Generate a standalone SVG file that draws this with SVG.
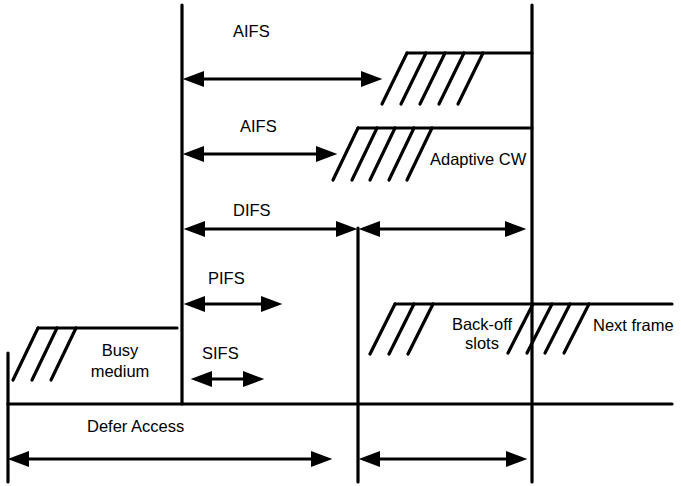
<svg xmlns="http://www.w3.org/2000/svg" width="681" height="486" viewBox="0 0 681 486">
<style>
  .ln { stroke:#000; stroke-width:3.2; fill:none; stroke-linecap:round; }
  .ar { stroke:#000; stroke-width:3.2; fill:none; marker-start:url(#ah); marker-end:url(#ah); }
  .t { font-family:"Liberation Sans", Arial, sans-serif; font-size:16.5px; fill:#000; }
  .c { text-anchor:middle; }
</style>
<defs>
  <marker id="ah" markerUnits="userSpaceOnUse" markerWidth="22" markerHeight="16" viewBox="0 0 20 15" refX="15" refY="7.5" orient="auto-start-reverse">
    <path d="M0,0 L20,7.5 L0,15 z" fill="#000"/>
  </marker>
</defs>
<rect width="681" height="486" fill="#fff"/>

<g id="timeline">
  <line class="ln" x1="8" y1="353" x2="8" y2="482"/>
  <line class="ln" x1="8" y1="404" x2="672" y2="404"/>
  <line class="ln" x1="182" y1="5" x2="182" y2="404"/>
  <line class="ln" x1="358" y1="228" x2="358" y2="482"/>
  <line class="ln" x1="532" y1="5" x2="532" y2="482"/>
</g>

<g id="busy-medium">
  <line class="ln" x1="38" y1="328" x2="177" y2="328"/>
  <line class="ln" x1="13" y1="380" x2="38" y2="328"/>
  <line class="ln" x1="32" y1="380" x2="57" y2="328"/>
  <line class="ln" x1="51" y1="380" x2="76" y2="328"/>
  <text class="t c" x="120" y="356">Busy</text>
  <text class="t c" x="120" y="377">medium</text>
</g>

<g id="aifs-1">
  <line class="ln" x1="407" y1="53" x2="532" y2="53"/>
  <line class="ln" x1="382" y1="104" x2="407" y2="53"/>
  <line class="ln" x1="401" y1="104" x2="426" y2="53"/>
  <line class="ln" x1="420" y1="104" x2="445" y2="53"/>
  <line class="ln" x1="439" y1="104" x2="464" y2="53"/>
  <line class="ln" x1="458" y1="104" x2="483" y2="53"/>
  <text class="t" x="233" y="37">AIFS</text>
</g>

<g id="aifs-2">
  <line class="ln" x1="358" y1="128" x2="532" y2="128"/>
  <line class="ln" x1="333" y1="180" x2="358" y2="128"/>
  <line class="ln" x1="352" y1="180" x2="377" y2="128"/>
  <line class="ln" x1="370" y1="180" x2="395" y2="128"/>
  <line class="ln" x1="389" y1="180" x2="414" y2="128"/>
  <line class="ln" x1="407" y1="180" x2="432" y2="128"/>
  <text class="t" x="240" y="131.5">AIFS</text>
  <text class="t" x="430" y="165">Adaptive CW</text>
</g>

<g id="backoff">
  <line class="ln" x1="395" y1="304" x2="672" y2="304"/>
  <line class="ln" x1="370" y1="354" x2="395" y2="304"/>
  <line class="ln" x1="389" y1="354" x2="414" y2="304"/>
  <line class="ln" x1="408" y1="354" x2="433" y2="304"/>
  <line class="ln" x1="508" y1="353" x2="533" y2="304"/>
  <line class="ln" x1="527" y1="353" x2="552" y2="304"/>
  <line class="ln" x1="545" y1="353" x2="570" y2="304"/>
  <line class="ln" x1="564" y1="353" x2="589" y2="304"/>
  <text class="t c" x="482" y="329.5">Back-off</text>
  <text class="t c" x="482" y="348.5">slots</text>
  <text class="t" x="593" y="331">Next frame</text>
</g>

<g id="labels">
  <text class="t" x="233" y="215.5">DIFS</text>
  <text class="t" x="208" y="284">PIFS</text>
  <text class="t" x="202" y="359">SIFS</text>
  <text class="t" x="87" y="431.7">Defer Access</text>
</g>

<g id="connectors">
  <line class="ar" x1="188" y1="79" x2="377" y2="79"/>
  <line class="ar" x1="188" y1="154" x2="332" y2="154"/>
  <line class="ar" x1="189" y1="229" x2="352" y2="229"/>
  <line class="ar" x1="364" y1="229" x2="521" y2="229"/>
  <line class="ar" x1="189" y1="304" x2="277" y2="304"/>
  <line class="ar" x1="196" y1="379" x2="259" y2="379"/>
  <line class="ar" x1="13" y1="459" x2="327" y2="459"/>
  <line class="ar" x1="364" y1="459" x2="522" y2="459"/>
</g>
</svg>
